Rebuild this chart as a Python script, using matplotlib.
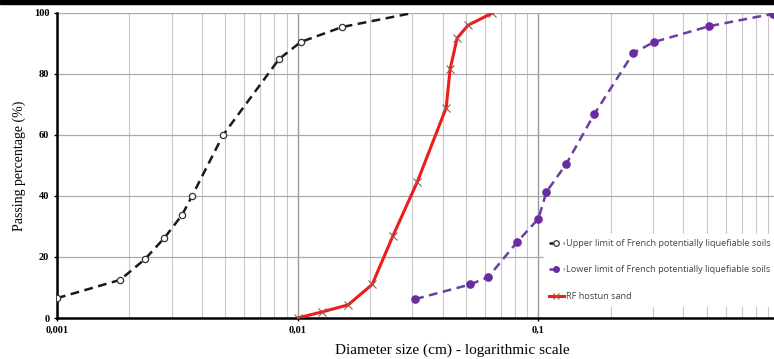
import numpy as np
import matplotlib
matplotlib.use('Agg')
import matplotlib.pyplot as plt
from matplotlib.patches import Rectangle
from matplotlib.ticker import FixedLocator, LogLocator, NullFormatter

# upper limit of French potentially liquefiable soils
upper_d = [0.001, 0.00183, 0.00232, 0.00279, 0.00331, 0.00364, 0.0049, 0.00837, 0.0103, 0.0153, 0.030]
upper_p = [6.5, 12.5, 19.3, 26.2, 33.8, 40.0, 60.0, 84.9, 90.5, 95.4, 100.0]

# lower limit of French potentially liquefiable soils
lower_d = [0.0308, 0.0521, 0.0619, 0.0818, 0.1, 0.108, 0.1306, 0.171, 0.248, 0.303, 0.514, 0.94]
lower_p = [6.2, 11.0, 13.4, 25.0, 32.5, 41.3, 50.5, 66.9, 86.9, 90.5, 95.7, 99.7]

# RF hostun sand
hostun_d = [0.01, 0.01264, 0.0162, 0.0204, 0.0249, 0.0314, 0.0414, 0.043, 0.046, 0.0511, 0.0644]
hostun_p = [0.0, 2.0, 4.3, 11.0, 27.0, 44.6, 68.9, 81.6, 91.8, 96.0, 100.0]

y_ticks = [0, 20, 40, 60, 80, 100]
x_ticks = [0.001, 0.01, 0.1]
x_labels = ['0,001', '0,01', '0,1']

fig = plt.figure(figsize=(7.74, 3.59), dpi=100)
ax = fig.add_axes([57/774, 41/359, 722/774, 305/359])

ax.set_xscale('log')
ax.set_xlim(0.001, 1)
ax.set_ylim(0, 100)

ax.plot(upper_d, upper_p, color='#1a1a1a', ls=(0, (3.5, 2.2)), lw=1.8, marker='o', ms=4.5,
        mfc='white', mec='#333333', mew=0.9, markevery=list(range(len(upper_d) - 1)),
        label='Upper limit of French potentially liquefiable soils', zorder=4)
ax.plot(lower_d, lower_p, color='#6b3fa0', ls=(0, (3.5, 2.2)), lw=1.8, marker='o', ms=5.2,
        mfc='#6a2c9e', mec='#6a2c9e',
        label='Lower limit of French potentially liquefiable soils', zorder=4)
ax.plot(hostun_d, hostun_p, color='#ee1c1c', lw=2.2, marker='x', ms=5.5, mec='#9a5a4a', mew=0.8,
        label='RF hostun sand', zorder=5)

ax.xaxis.set_major_locator(FixedLocator(x_ticks))
ax.set_xticklabels(x_labels)
ax.xaxis.set_minor_locator(LogLocator(base=10, subs=np.arange(2, 10)))
ax.xaxis.set_minor_formatter(NullFormatter())
ax.set_yticks(y_ticks)

ax.grid(which='major', axis='x', color='#999999', lw=1.0)
ax.grid(which='minor', axis='x', color='#c8c8c8', lw=0.8)
ax.grid(which='major', axis='y', color='#aaaaaa', lw=0.9)
ax.set_axisbelow(True)

for s in ['top', 'right']:
    ax.spines[s].set_visible(False)
ax.spines['left'].set_linewidth(1.8)
ax.spines['bottom'].set_linewidth(1.8)
ax.tick_params(which='both', length=2, width=1, direction='out')
ax.tick_params(which='minor', length=0)
for lab in ax.get_xticklabels() + ax.get_yticklabels():
    lab.set_fontfamily('Liberation Serif')
    lab.set_fontsize(7.5)
    lab.set_fontweight('bold')

ax.set_ylabel('Passing percentage (%)', family='Liberation Serif', fontsize=10, labelpad=6)
ax.set_xlabel('Diameter size (cm) - logarithmic scale', family='Liberation Serif', fontsize=11,
              labelpad=4)
ax.xaxis.set_label_coords(395/722, -0.085)

leg = ax.legend(loc='upper left', bbox_to_anchor=(482/722, 89/305), frameon=True,
                fancybox=False, edgecolor='white', framealpha=1,
                prop={'family': 'Open Sans', 'size': 6.6}, handlelength=1.6,
                handletextpad=0.3, labelspacing=1.9, borderpad=0.6)
for h in leg.legend_handles:
    h.set_markersize(4)
for t in leg.get_texts():
    t.set_color('#444444')

fig.patches.append(Rectangle((0, 1 - 3.5/359), 1, 3.5/359, transform=fig.transFigure,
                             color='black', zorder=10))

fig.savefig('out.png', dpi=100)
